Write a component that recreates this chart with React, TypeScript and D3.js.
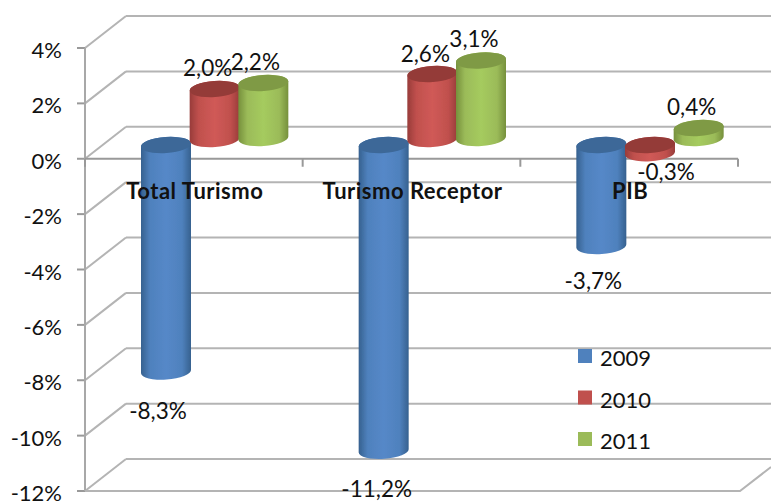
import React from "react";
import * as d3 from "d3";

const categories = ["Total Turismo", "Turismo Receptor", "PIB"];
const years = ["2009", "2010", "2011"];
const values2009 = [-8.3, -11.2, -3.7];
const values2010 = [2.0, 2.6, -0.3];
const values2011 = [2.2, 3.1, 0.4];
const seriesValues = [values2009, values2010, values2011];
const axisTicks = [4, 2, 0, -2, -4, -6, -8, -10, -12];

const palette = [
  { edge: "#36618f", mid: "#5588c8", top: "#3c6898", flat: "#4f81bd" },
  { edge: "#983c3a", mid: "#d05a57", top: "#943a38", flat: "#c0504d" },
  { edge: "#76903c", mid: "#a5cb5e", top: "#7f9a45", flat: "#9bbb59" },
];

// Hand placed label anchors relative to the bar end, as in the reference
const labelShift = [
  [[-8, 47], [-7, -13], [-8, -13]],
  [[-7, 46], [-7, -12], [-7, -14]],
  [[-8, 43], [16, 27], [-7, -13]],
];

const W = 771, H = 501;
const yAxis = d3.scaleLinear().domain([-12, 4]).range([491, 48]);
const depthX = 41, depthY = 32;
const xBand = d3.scaleBand().domain(categories).range([85, 738]);
const serBand = d3.scaleBand().domain(years).range([0, 146]);
const yBar = d3.scaleLinear().domain([-12, 0, 4]).range([145 + 27.3 * 12, 145, 45]);
const baseShift = [0, -6, -7];
const RX = 25, RY = 8, TILT = -4;
const BAR_W = 50;

function cylinder(x: number, yTop: number, yBottom: number) {
  const dy = Math.tan((TILT * Math.PI) / 180) * RX;
  const body = `M${x},${yTop - dy}L${x},${yBottom - dy}A${RX},${RY} ${TILT} 0 0 ${x + BAR_W},${yBottom + dy}L${x + BAR_W},${yTop + dy}A${RX},${RY} ${TILT} 0 0 ${x},${yTop - dy}Z`;
  return { body, cx: x + RX, cy: yTop };
}

const font = "Lato, Carlito, sans-serif";
const gridColor = "#b4b4b4";

export default function App() {
  return (
    <svg width={W} height={H} viewBox={`0 0 ${W} ${H}`} style={{ position: "absolute", left: 0, top: 0, background: "#fff" }} fontFamily={font}>
      <defs>
        {palette.map((c, i) => (
          <linearGradient key={i} id={`g${i}`} x1="0" x2="1" y1="0" y2="0">
            <stop offset="0" stopColor={c.edge} />
            <stop offset="0.18" stopColor={c.flat} />
            <stop offset="0.5" stopColor={c.mid} />
            <stop offset="0.82" stopColor={c.flat} />
            <stop offset="1" stopColor={c.edge} />
          </linearGradient>
        ))}
        <filter id="soft" x="-5%" y="-5%" width="110%" height="110%">
          <feGaussianBlur stdDeviation="0.45" />
        </filter>
      </defs>
      <g filter="url(#soft)">
        {axisTicks.map((t) => {
          const y = yAxis(t);
          return (
            <g key={t} stroke={gridColor} strokeWidth={2} fill="none">
              <line x1={85} y1={y} x2={85 + depthX} y2={y - depthY} />
              <line x1={85 + depthX} y1={y - depthY} x2={W} y2={y - depthY} />
              <line x1={77} y1={y} x2={85} y2={y} stroke="#999" />
            </g>
          );
        })}
        <line x1={85} y1={yAxis(4)} x2={85} y2={yAxis(-12)} stroke="#a8a8a8" strokeWidth={2} />
        <line x1={85} y1={yAxis(0)} x2={738} y2={yAxis(0)} stroke="#999" strokeWidth={2} />
        {[...categories.map((c) => xBand(c)!), 738].map((x) => (
          <line key={x} x1={x} y1={yAxis(0)} x2={x} y2={yAxis(0) + 8} stroke="#999" strokeWidth={2} />
        ))}
        <polyline points={`85,${yAxis(-12)} 740,${yAxis(-12)} 771,${yAxis(-12) - 24}`} fill="none" stroke={gridColor} strokeWidth={2} />

        {categories.map((c, ci) =>
          years.map((yr, si) => {
            const v = seriesValues[si][ci];
            const x = xBand(c)! + 56 + serBand(yr)!;
            const base = v >= 0 ? yBar(0) + baseShift[si] : yBar(0);
            const end = v >= 0 ? yBar(v) + baseShift[si] : yBar(v);
            const top = Math.min(base, end), bottom = Math.max(base, end);
            const { body, cx, cy } = cylinder(x, top, bottom);
            return (
              <g key={yr}>
                <path d={body} fill={`url(#g${si})`} />
                <ellipse cx={cx} cy={cy} rx={RX} ry={RY} fill={palette[si].top} transform={`rotate(${TILT} ${cx} ${cy})`} />
              </g>
            );
          })
        )}
      </g>

      {axisTicks.map((t) => (
        <text key={t} x={62} y={yAxis(t) + 10} textAnchor="end" fontSize={22} fill="#111">
          {t}%
        </text>
      ))}
      {categories.map((c) => (
        <text key={c} x={xBand(c)! + xBand.bandwidth() / 2 + 1} y={199} textAnchor="middle" fontSize={22} letterSpacing={0.5} fontWeight={700} fill="#111">
          {c}
        </text>
      ))}
      {categories.map((c, ci) =>
        years.map((yr, si) => {
          const v = seriesValues[si][ci];
          const x = xBand(c)! + 56 + serBand(yr)! + RX;
          const end = v >= 0 ? yBar(v) + baseShift[si] : yBar(v);
          const [dx, dy] = labelShift[ci][si];
          return (
            <text key={yr} x={x + dx} y={end + dy} textAnchor="middle" fontSize={22.5} fill="#111">
              {d3.format(".1f")(v).replace(".", ",").replace("−", "-")}%
            </text>
          );
        })
      )}
      {years.map((yr, i) => {
        const y = 349 + i * 41.5;
        return (
          <g key={yr}>
            <rect x={578} y={y} width={14} height={14} fill={palette[i].flat} />
            <text x={600} y={y + 17} fontSize={22} fill="#111">{yr}</text>
          </g>
        );
      })}
    </svg>
  );
}
